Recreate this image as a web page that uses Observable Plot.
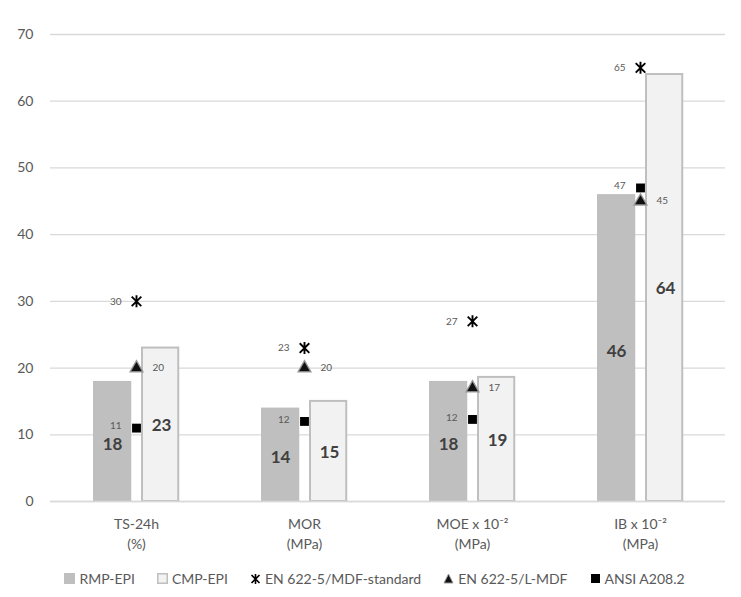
<!DOCTYPE html>
<html>
<head>
<meta charset="utf-8">
<script src="https://cdn.jsdelivr.net/npm/d3@7"></script>
<script src="https://cdn.jsdelivr.net/npm/@observablehq/plot@0.6"></script>
<style>
  body { margin: 0; background: #fff; font-family: Lato, "Open Sans", sans-serif; }
  #legend { display: flex; justify-content: center; align-items: center; height: 37px; font-size: 14px; color: #595959; padding-left: 8px; }
  .item { display: flex; align-items: center; margin: 0 11px; }
  .item svg { margin-right: 4px; }
</style>
</head>
<body>
<div id="chart"></div>
<div id="legend"></div>
<script>
// ---- data ----
const categories = ["TS-24h\n(%)", "MOR\n(MPa)", "MOE x 10⁻²\n(MPa)", "IB x 10⁻²\n(MPa)"];
const rmpEpi = [18, 14, 18, 46];
const cmpEpi = [23, 15, 18.6, 64];
const mdfStandard = [30, 23, 27, 65];
const lMdf = [20, 20, 17, 45];
const ansi = [11, 12, 12.3, 47];
const yTicks = [0, 10, 20, 30, 40, 50, 60, 70];
const seriesNames = ["RMP-EPI", "CMP-EPI", "EN 622-5/MDF-standard", "EN 622-5/L-MDF", "ANSI A208.2"];

const rows = categories.map((c, i) => ({
  category: c, rmp: rmpEpi[i], cmp: cmpEpi[i], mdf: mdfStandard[i], lmdf: lMdf[i], ansi: ansi[i]
}));

// asterisk-like symbol: vertical stroke + X
const asteriskX = {
  draw(context, size) {
    const r = Math.sqrt(size / Math.PI);
    const u = r * 0.8;
    context.moveTo(0, -r); context.lineTo(0, r);
    context.moveTo(-u, -u); context.lineTo(u, u);
    context.moveTo(-u, u); context.lineTo(u, -u);
  }
};

const labelColor = "#595959";

const chart = Plot.plot({
  width: 741,
  height: 560,
  marginTop: 34,
  marginBottom: 59,
  marginLeft: 50,
  marginRight: 16,
  style: { fontFamily: "Lato, 'Open Sans', sans-serif", color: labelColor, background: "white" },
  x: { domain: categories, padding: 0, label: null },
  y: { domain: [0, 70], label: null },
  marks: [
    Plot.gridY(yTicks, { stroke: "#d9d9d9", strokeOpacity: 1, strokeWidth: 1.3 }),
    Plot.axisY(yTicks, { tickSize: 0, tickPadding: 17, fontSize: 14, label: null }),
    Plot.axisX({ tickSize: 0, tickPadding: 13, fontSize: 14, lineHeight: 1.45, label: null }),
    Plot.barY(rows, { x: "category", y: "rmp", fill: "#bfbfbf", insetLeft: 41, insetRight: 88.75 }),
    Plot.barY(rows, { x: "category", y: "cmp", fill: "#f2f2f2", stroke: "#bfbfbf", strokeWidth: 2, insetLeft: 90, insetRight: 41.75 }),
    Plot.ruleY([0], { stroke: "#d9d9d9", strokeWidth: 1.5 }),
    Plot.text(rows, { x: "category", y: d => d.rmp / 2, text: d => Math.round(d.rmp), dx: -24, dy: 3, fontSize: 17, fontWeight: "bold", fill: "#404040" }),
    Plot.text(rows, { x: "category", y: d => d.cmp / 2, text: d => Math.round(d.cmp), dx: 25, dy: 1, fontSize: 17, fontWeight: "bold", fill: "#404040" }),
    Plot.dot(rows, { x: "category", y: "mdf", symbol: asteriskX, r: 6, fill: "none", stroke: "black", strokeWidth: 1.9 }),
    Plot.dot(rows, { x: "category", y: "lmdf", symbol: "triangle", r: 4.8, fill: "#111", stroke: "#9a9a9a", strokeWidth: 1.3 }),
    Plot.dot(rows, { x: "category", y: "ansi", symbol: "square", r: 5, fill: "black" }),
    Plot.text(rows, { x: "category", y: "mdf", text: d => Math.round(d.mdf), dx: -15, textAnchor: "end", fontSize: 10, fill: labelColor }),
    Plot.text(rows, { x: "category", y: "lmdf", text: d => Math.round(d.lmdf), dx: 16, textAnchor: "start", fontSize: 10, fill: labelColor }),
    Plot.text(rows, { x: "category", y: "ansi", text: d => Math.round(d.ansi), dx: -15, dy: -2, textAnchor: "end", fontSize: 10, fill: labelColor })
  ]
});
document.getElementById("chart").appendChild(chart);

// ---- legend ----
const swatches = [
  `<svg width="11" height="11"><rect x="0" y="0" width="11" height="11" fill="#bfbfbf"/></svg>`,
  `<svg width="11" height="11"><rect x="0.75" y="0.75" width="9.5" height="9.5" fill="#f2f2f2" stroke="#bfbfbf" stroke-width="1.5"/></svg>`,
  `<svg width="11" height="12"><path d="M5.5,1V11M1.5,2L9.5,10M1.5,10L9.5,2" stroke="black" stroke-width="1.6" fill="none"/></svg>`,
  `<svg width="11" height="11"><path d="M5.5,1L10,10H1Z" fill="#111" stroke="#9a9a9a" stroke-width="1"/></svg>`,
  `<svg width="11" height="11"><rect x="1" y="1" width="9" height="9" fill="black"/></svg>`
];
const legend = document.getElementById("legend");
seriesNames.forEach((name, i) => {
  const div = document.createElement("div");
  div.className = "item";
  div.innerHTML = swatches[i] + `<span>${name}</span>`;
  legend.appendChild(div);
});
</script>
</body>
</html>
